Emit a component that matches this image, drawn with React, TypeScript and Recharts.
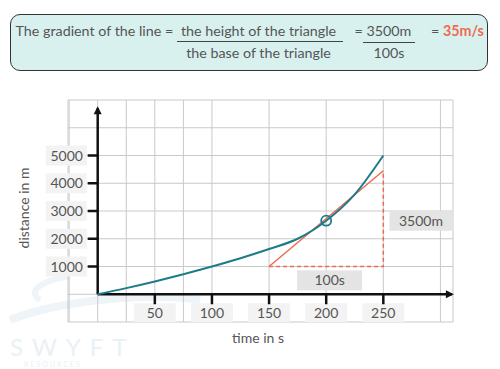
import { ComposedChart, Line, Scatter, XAxis, YAxis, CartesianGrid } from "recharts";

// distance–time curve
const times = [0, 25, 50, 75, 100, 125, 150, 175, 200, 225, 250];
const distances = [0, 220, 460, 720, 1000, 1300, 1630, 2000, 2650, 3600, 5000];

// tangent at t = 200 and its triangle
const tangentTimes = [150, 250];
const tangentDistances = [1000, 4450];
const triangleTimes = [150, 250, 250];
const triangleDistances = [1000, 1000, 4450];
const touchPoint = { t: 200, d: 2650 };

const xTickValues = [50, 100, 150, 200, 250];
const yTickValues = [1000, 2000, 3000, 4000, 5000];
const xGrid = [-25, 0, 25, 50, 75, 100, 125, 150, 175, 200, 225, 250, 275, 300];
const yGrid = [-1000, 0, 1000, 2000, 3000, 4000, 5000, 6000, 7000];
const axisEnds = { yTop: 6700, xRight: 310 };

const curveData = times.map((t, i) => ({ t, d: distances[i] }));
const tangentData = tangentTimes.map((t, i) => ({ t, d: tangentDistances[i] }));
const triangleData = triangleTimes.map((t, i) => ({ t, d: triangleDistances[i] }));

const TEAL = "#1d7c89";
const RED = "#f06a4f";
const FONT = "Lato, 'Open Sans', sans-serif";
const TXT = "#555";

const YTick = (p: any) => {
  const { cx, cy, payload } = p;
  return (
    <g>
      <rect x={cx - 52} y={cy - 10} width={41} height={20} fill="#f3f3f3" />
      <text x={cx - 31} y={cy + 5} textAnchor="middle" fontSize={14} fill={TXT} fontFamily={FONT}>
        {payload.d}
      </text>
      <line x1={cx - 10} x2={cx} y1={cy} y2={cy} stroke="#111" strokeWidth={2.5} />
    </g>
  );
};

const XTick = (p: any) => {
  const { cx, cy, payload } = p;
  return (
    <g>
      <rect x={cx - 21} y={cy + 9} width={42} height={19} fill="#f3f3f3" />
      <text x={cx} y={cy + 24} textAnchor="middle" fontSize={14} fill={TXT} fontFamily={FONT}>
        {payload.t}
      </text>
      <line x1={cx} x2={cx} y1={cy} y2={cy + 10} stroke="#111" strokeWidth={2.5} />
    </g>
  );
};

const UpArrow = (p: any) => (
  <path d={`M${p.cx - 4},${p.cy + 6} L${p.cx},${p.cy - 2} L${p.cx + 4},${p.cy + 6} Z`} fill="#111" />
);
const RightArrow = (p: any) => (
  <path d={`M${p.cx - 6},${p.cy - 4} L${p.cx + 2},${p.cy} L${p.cx - 6},${p.cy + 4} Z`} fill="#111" />
);

const Ring = (p: any) => (
  <circle cx={p.cx} cy={p.cy} r={5} fill="none" stroke={TEAL} strokeWidth={1.8} />
);

const Tag = (w: number) => (p: any) => (
  <g>
    <rect x={p.cx - w / 2} y={p.cy - 10} width={w} height={20} fill="#e4e4e4" />
    <text x={p.cx} y={p.cy + 5} textAnchor="middle" fontSize={14} fill={TXT} fontFamily={FONT}>
      {p.payload.label}
    </text>
  </g>
);

export default function App() {
  return (
    <div style={{ position: "absolute", left: 0, top: 0, width: 500, height: 369, background: "#fff", fontFamily: FONT }}>
      {/* formula box */}
      <div
        style={{
          position: "absolute",
          left: 10,
          top: 14,
          width: 478,
          height: 57,
          background: "#d8f1ef",
          border: "1.5px solid #333",
          borderRadius: 10,
          boxSizing: "border-box",
          color: TXT,
          fontSize: 14.3,
          whiteSpace: "nowrap",
        }}
      >
        <span style={{ position: "absolute", left: 4.5, top: 7 }}>The gradient of the line =</span>
        <span style={{ position: "absolute", left: 164, top: 7, width: 167, textAlign: "center" }}>
          the height of the triangle
        </span>
        <div style={{ position: "absolute", left: 165.5, top: 26, width: 166, borderTop: "1.5px solid #444" }} />
        <span style={{ position: "absolute", left: 164, top: 29, width: 167, textAlign: "center" }}>
          the base of the triangle
        </span>
        <span style={{ position: "absolute", left: 343.5, top: 7 }}>= 3500m</span>
        <div style={{ position: "absolute", left: 351.5, top: 27, width: 52, borderTop: "1.5px solid #444" }} />
        <span style={{ position: "absolute", left: 352, top: 29, width: 52, textAlign: "center" }}>100s</span>
        <span style={{ position: "absolute", left: 420, top: 7 }}>
          = <b style={{ color: RED }}>35m/s</b>
        </span>
      </div>

      {/* faint watermark */}
      <svg width={500} height={369} style={{ position: "absolute", left: 0, top: 0 }}>
        <path d="M10,320 C60,300 150,292 200,300" stroke="#eef4f7" strokeWidth={8} fill="none" />
        <path d="M40,300 C25,290 45,280 70,276" stroke="#eef4f7" strokeWidth={6} fill="none" />
        <text x={10} y={356} fontSize={24} fill="#e9f1f5" letterSpacing={9} fontFamily={FONT}>SWYFT</text>
        <text x={24} y={367} fontSize={7} fill="#e9f1f5" letterSpacing={2} fontFamily={FONT}>RESOURCES</text>
      </svg>

      <div style={{ position: "absolute", left: 0, top: 0 }}>
        <ComposedChart width={500} height={369} margin={{ top: 100, right: 47, bottom: 47, left: 68 }}>
          <XAxis type="number" dataKey="t" domain={[-26, 311]} ticks={xGrid} hide />
          <YAxis type="number" dataKey="d" domain={[-1000, 7000]} ticks={yGrid} hide />
          <CartesianGrid stroke="#c9c9c9" strokeWidth={1} />
          <Scatter data={yTickValues.map((v) => ({ t: 0, d: v }))} dataKey="d" shape={YTick} isAnimationActive={false} />
          <Scatter data={xTickValues.map((v) => ({ t: v, d: 0 }))} dataKey="d" shape={XTick} isAnimationActive={false} />
          <Line
            data={[{ t: 0, d: 0 }, { t: 0, d: axisEnds.yTop }]}
            dataKey="d"
            type="linear"
            stroke="#111"
            strokeWidth={2.5}
            dot={false}
            isAnimationActive={false}
          />
          <Line
            data={[{ t: 0, d: 0 }, { t: axisEnds.xRight, d: 0 }]}
            dataKey="d"
            type="linear"
            stroke="#111"
            strokeWidth={2.5}
            dot={false}
            isAnimationActive={false}
          />
          <Scatter data={[{ t: 0, d: axisEnds.yTop }]} dataKey="d" shape={UpArrow} isAnimationActive={false} />
          <Scatter data={[{ t: axisEnds.xRight, d: 0 }]} dataKey="d" shape={RightArrow} isAnimationActive={false} />
          <Scatter data={[{ t: 283, d: 2650, label: "3500m" }]} dataKey="d" shape={Tag(63)} isAnimationActive={false} />
          <Scatter data={[{ t: 203, d: 500, label: "100s" }]} dataKey="d" shape={Tag(65)} isAnimationActive={false} />
          <Line
            data={triangleData}
            dataKey="d"
            type="linear"
            stroke={RED}
            strokeWidth={1.5}
            strokeDasharray="4 3"
            dot={false}
            isAnimationActive={false}
          />
          <Line
            data={tangentData}
            dataKey="d"
            type="linear"
            stroke={RED}
            strokeWidth={1.5}
            dot={false}
            isAnimationActive={false}
          />
          <Line
            data={curveData}
            dataKey="d"
            type="monotone"
            stroke={TEAL}
            strokeWidth={2}
            dot={false}
            isAnimationActive={false}
          />
          <Scatter data={[touchPoint]} dataKey="d" shape={Ring} isAnimationActive={false} />
          <text x={29} y={208} transform="rotate(-90 29 208)" textAnchor="middle" fontSize={14} fill={TXT} fontFamily={FONT}>
            distance in m
          </text>
          <text x={258} y={343} textAnchor="middle" fontSize={14} fill={TXT} fontFamily={FONT}>
            time in s
          </text>
        </ComposedChart>
      </div>
    </div>
  );
}
